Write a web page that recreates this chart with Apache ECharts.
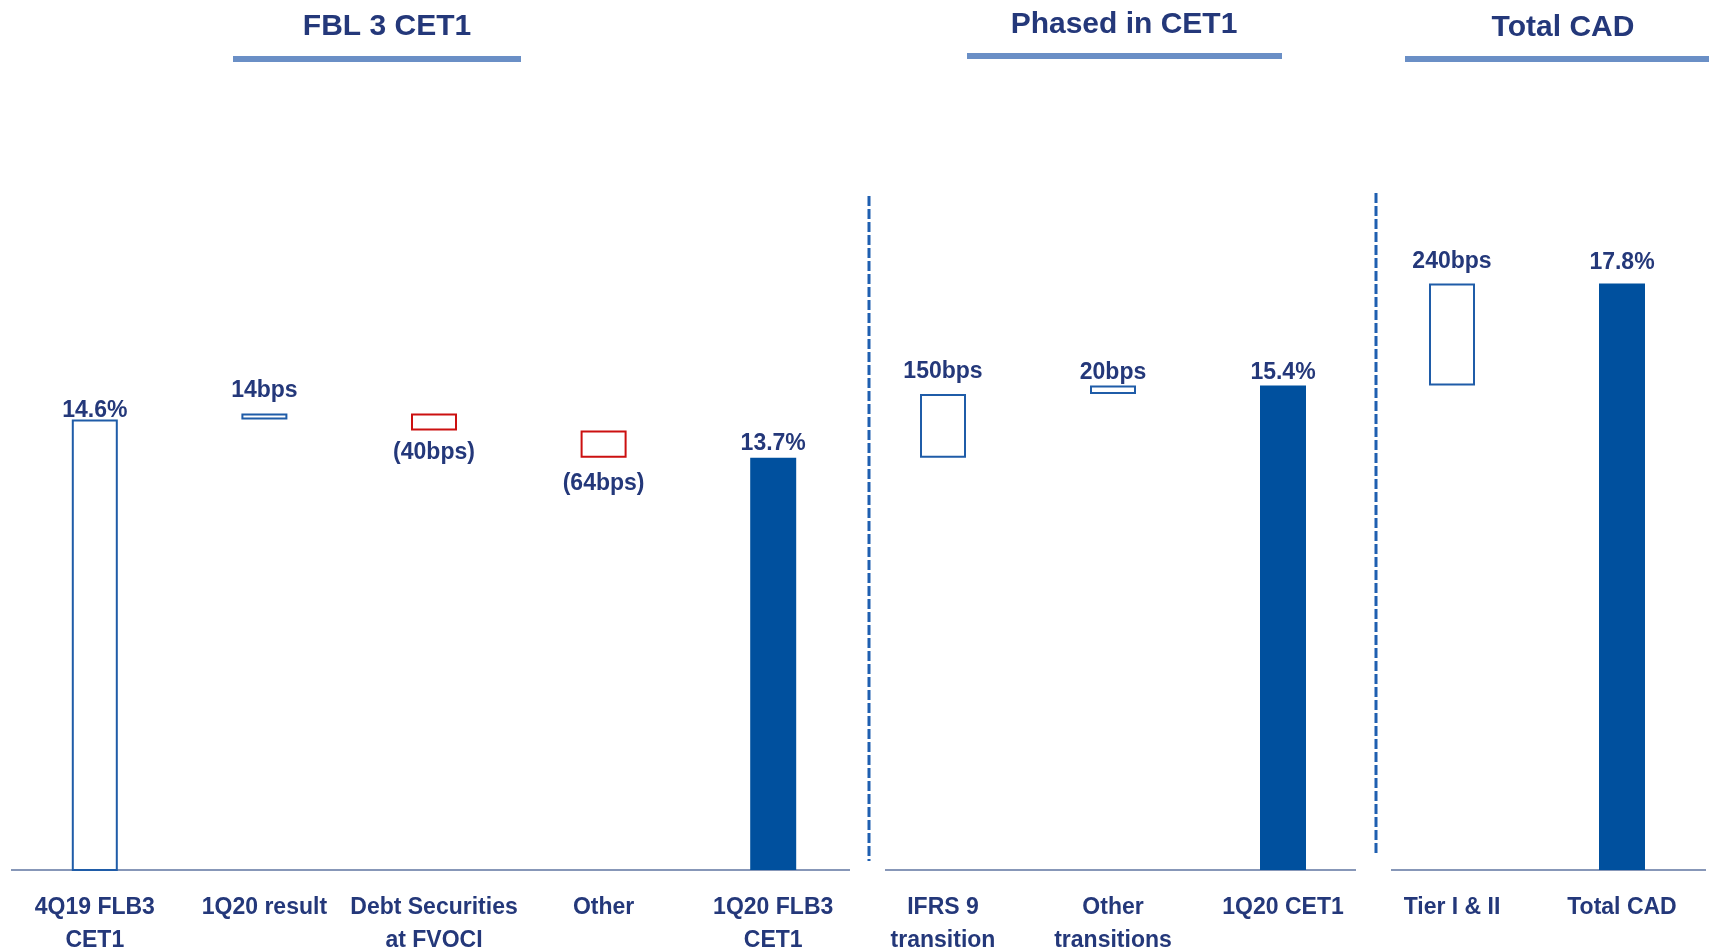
<!DOCTYPE html>
<html>
<head>
<meta charset="utf-8">
<title>CET1 bridge</title>
<script src="https://cdn.jsdelivr.net/npm/echarts@6/dist/echarts.min.js"></script>
<style>
  html, body { margin: 0; padding: 0; background: #fff; }
  #chart { width: 1709px; height: 950px; }
</style>
</head>
<body>
<div id="chart"></div>
<script>
// 数据
const fblCats = ['4Q19 FLB3\nCET1', '1Q20 result', 'Debt Securities\nat FVOCI', 'Other', '1Q20 FLB3\nCET1'];
const fblValues = [14.6, 0.14, -0.40, -0.64, 13.7];
const fblLabels = ['14.6%', '14bps', '(40bps)', '(64bps)', '13.7%'];

const phasedCats = ['IFRS 9\ntransition', 'Other\ntransitions', '1Q20 CET1'];
const phasedValues = [1.50, 0.20, 15.4];
const phasedLabels = ['150bps', '20bps', '15.4%'];

const cadCats = ['Tier I & II', 'Total CAD'];
const cadValues = [2.40, 17.8];
const cadLabels = ['240bps', '17.8%'];

// label distance from the bar, per bar
const fblGap = [-3, 11, 10.5, 14.5, 3];
const phasedGap = [11, 1, 1];
const cadGap = [10, 9];

const NAVY = '#24387a';
const FILL = '#00509e';
const EDGE = '#1f5ca8';
const RED = '#cc1010';
const FONT = '"Liberation Sans", Arial, sans-serif';

// builds the invisible base + visible step for a waterfall
function waterfall (values, labels, gaps, level, outlineFirst) {
    let base = [];
    let body = [];
    values.forEach((v, i) => {
        let last = i === values.length - 1;
        let first = outlineFirst && i === 0;
        let label = {
            show: true,
            formatter: labels[i],
            distance: gaps[i]
        };
        if (first || last) {
            level = v;
            base.push(0);
            body.push({
                value: v,
                itemStyle: last
                    ? { color: FILL, borderWidth: 0 }
                    : { color: '#fff', borderColor: EDGE, borderWidth: 2 },
                label: Object.assign(label, { position: 'top' })
            });
        } else {
            base.push(v >= 0 ? level : level + v);
            body.push({
                value: Math.abs(v),
                itemStyle: { color: '#fff', borderColor: v >= 0 ? EDGE : RED, borderWidth: 2 },
                label: Object.assign(label, { position: v >= 0 ? 'top' : 'bottom' })
            });
            level += v;
        }
    });
    return { base, body, level };
}

let fbl = waterfall(fblValues, fblLabels, fblGap, 0, true);
let phased = waterfall(phasedValues, phasedLabels, phasedGap, fbl.level, false);
let cad = waterfall(cadValues, cadLabels, cadGap, phased.level, false);

const gridTop = 190;
const gridBottom = 80;
let grids = [
    { left: 10, width: 848, top: gridTop, bottom: gridBottom, outerBoundsMode: 'none' },
    { left: 858, width: 510, top: gridTop, bottom: gridBottom, outerBoundsMode: 'none' },
    { left: 1367, width: 340, top: gridTop, bottom: gridBottom, outerBoundsMode: 'none' }
];

function xAxisFor (cats, idx) {
    return {
        type: 'category',
        gridIndex: idx,
        data: cats,
        axisLine: { show: false },
        axisTick: { show: false },
        axisLabel: {
            interval: 0,
            margin: 21,
            color: NAVY,
            fontFamily: FONT,
            fontWeight: 'bold',
            fontSize: 23,
            lineHeight: 33
        }
    };
}

function yAxisFor (idx) {
    return {
        type: 'value',
        gridIndex: idx,
        min: 4,
        max: 20,
        show: false,
        splitLine: { show: false }
    };
}

function seriesFor (wf, idx) {
    return [{
        type: 'bar',
        xAxisIndex: idx,
        yAxisIndex: idx,
        stack: 'wf' + idx,
        barWidth: 46,
        silent: true,
        itemStyle: { color: 'transparent' },
        data: wf.base
    }, {
        type: 'bar',
        xAxisIndex: idx,
        yAxisIndex: idx,
        stack: 'wf' + idx,
        barWidth: 46,
        label: {
            color: NAVY,
            fontFamily: FONT,
            fontWeight: 'bold',
            fontSize: 23
        },
        data: wf.body
    }];
}

function hline (x1, x2, y, color, width) {
    return {
        type: 'line',
        silent: true,
        shape: { x1: x1, y1: y, x2: x2, y2: y },
        style: { stroke: color, lineWidth: width }
    };
}

function dashed (x, y1, y2) {
    return {
        type: 'line',
        silent: true,
        shape: { x1: x, y1: y1, x2: x, y2: y2 },
        style: { stroke: '#1f5fb0', lineWidth: 3, lineDash: [10, 3] }
    };
}

let titleStyle = {
    color: NAVY,
    fontFamily: FONT,
    fontWeight: 'bold',
    fontSize: 30
};

let option = {
    animation: false,
    backgroundColor: '#fff',
    title: [
        { text: 'FBL 3 CET1', left: 382, top: 7, textAlign: 'center', textStyle: titleStyle },
        { text: 'Phased in CET1', left: 1119, top: 5, textAlign: 'center', textStyle: titleStyle },
        { text: 'Total CAD', left: 1558, top: 8, textAlign: 'center', textStyle: titleStyle }
    ],
    grid: grids,
    xAxis: [xAxisFor(fblCats, 0), xAxisFor(phasedCats, 1), xAxisFor(cadCats, 2)],
    yAxis: [yAxisFor(0), yAxisFor(1), yAxisFor(2)],
    series: [].concat(seriesFor(fbl, 0), seriesFor(phased, 1), seriesFor(cad, 2)),
    graphic: [
        // header underlines
        hline(233, 521, 59, '#6a8fc6', 6),
        hline(967, 1282, 56, '#6a8fc6', 6),
        hline(1405, 1709, 59, '#6a8fc6', 6),
        // baselines
        hline(11, 850, 870, '#8797b8', 2),
        hline(885, 1356, 870, '#8797b8', 2),
        hline(1391, 1706, 870, '#8797b8', 2),
        // section separators
        dashed(869, 196, 861),
        dashed(1376, 193, 856)
    ]
};

let chart = echarts.init(document.getElementById('chart'));
chart.setOption(option);
</script>
</body>
</html>
